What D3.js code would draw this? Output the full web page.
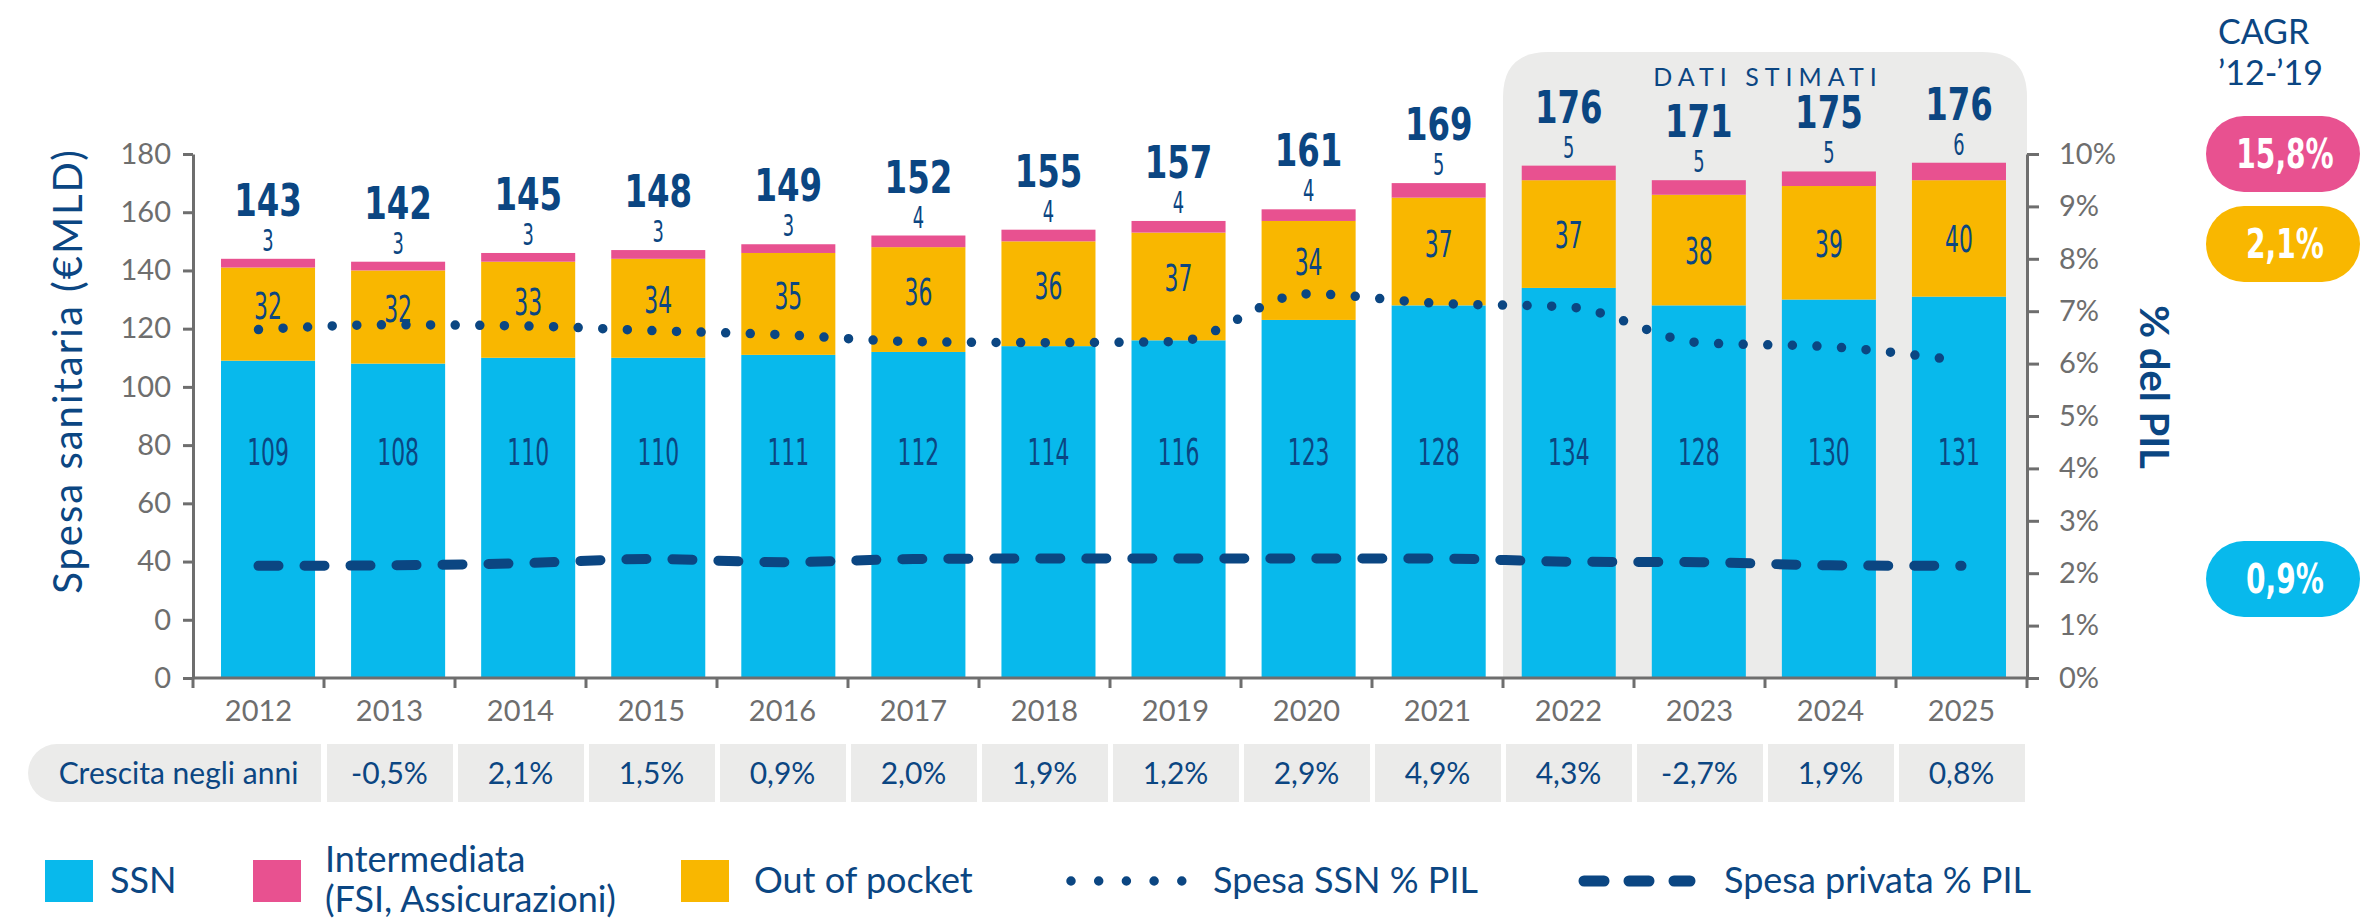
<!DOCTYPE html>
<html>
<head>
<meta charset="utf-8">
<script src="https://cdn.jsdelivr.net/npm/d3@7.9.0/dist/d3.min.js"></script>
<style>
  body { margin: 0; background: #fff; }
  svg text { font-family: Lato, 'Open Sans', sans-serif; }
  svg text.num { font-family: 'DejaVu Sans Condensed', 'DejaVu Sans', sans-serif; }
</style>
</head>
<body>
<svg id="chart" width="2362" height="920"></svg>
<script>
// data
const years = [2012, 2013, 2014, 2015, 2016, 2017, 2018, 2019, 2020, 2021, 2022, 2023, 2024, 2025];
const ssn          = [109, 108, 110, 110, 111, 112, 114, 116, 123, 128, 134, 128, 130, 131];
const outOfPocket  = [32, 32, 33, 34, 35, 36, 36, 37, 34, 37, 37, 38, 39, 40];
const intermediata = [3, 3, 3, 3, 3, 4, 4, 4, 4, 5, 5, 5, 5, 6];
const totals       = [143, 142, 145, 148, 149, 152, 155, 157, 161, 169, 176, 171, 175, 176];
const ssnPil       = [6.65, 6.74, 6.72, 6.63, 6.55, 6.42, 6.40, 6.42, 7.33, 7.15, 7.08, 6.40, 6.32, 6.05];
const privataPil   = [2.14, 2.15, 2.19, 2.27, 2.21, 2.27, 2.28, 2.28, 2.28, 2.28, 2.22, 2.21, 2.15, 2.14];
const growthLabel  = 'Crescita negli anni';
const growth       = ['-0,5%', '2,1%', '1,5%', '0,9%', '2,0%', '1,9%', '1,2%', '2,9%', '4,9%', '4,3%', '-2,7%', '1,9%', '0,8%'];
const yTicks       = [0, 20, 40, 60, 80, 100, 120, 140, 160, 180];
const yTickLabels  = ['0', '0', '40', '60', '80', '100', '120', '140', '160', '180'];
const estimatedYears = [2022, 2023, 2024, 2025];
const cagrValues   = ['15,8%', '2,1%', '0,9%'];
const legendItems  = ['SSN', 'Intermediata', 'Out of pocket'];

const NAVY = '#0b4682', GREY = '#6e6e6e', BG = '#ebebea';
const C_SSN = '#08b9ec', C_INT = '#e85190', C_OOP = '#f9b700';

const svg = d3.select('#chart');

// scales
const y  = d3.scaleLinear().domain([0, 180]).range([678, 154]);
const yR = d3.scaleLinear().domain([0, 10]).range([678, 154]);
const x  = d3.scaleBand().domain(years).range([193, 2027]);
const xb = d3.scaleBand().domain(years).range([203, 2024]).paddingInner(0.277).paddingOuter(0.1385);
const xc = d => x(d) + x.bandwidth() / 2;
const bc = d => xb(d) + xb.bandwidth() / 2;
const isEstimate = yr => estimatedYears.includes(yr);

// condensed number text: the source font is a narrow one, so squeeze it
function numText(sel, sx) {
  return sel.attr('class', 'num')
    .attr('transform', d => `translate(${d.cx},${d.cy}) scale(${sx},1)`)
    .attr('text-anchor', 'middle');
}

// shaded "dati stimati" box
const bx0 = x(estimatedYears[0]), bx1 = x.range()[1], by0 = 52, by1 = y(0), r = 45;
svg.append('path')
  .attr('d', `M${bx0},${by1} V${by0 + r} Q${bx0},${by0} ${bx0 + r},${by0} H${bx1 - r} Q${bx1},${by0} ${bx1},${by0 + r} V${by1} Z`)
  .attr('fill', BG);
svg.append('text')
  .attr('x', (bx0 + bx1) / 2 + 3).attr('y', 86)
  .attr('text-anchor', 'middle')
  .attr('font-size', 25).attr('letter-spacing', 6)
  .attr('fill', NAVY)
  .text('DATI STIMATI');

// stacked bars
const rows = years.map((yr, i) => ({ yr, ssn: ssn[i], oop: outOfPocket[i], int: intermediata[i], tot: totals[i] }));
const bars = svg.append('g');
bars.selectAll('.b-ssn').data(rows).join('rect')
  .attr('x', d => xb(d.yr)).attr('width', xb.bandwidth())
  .attr('y', d => y(d.ssn)).attr('height', d => y(0) - y(d.ssn) - 1)
  .attr('fill', C_SSN);
bars.selectAll('.b-oop').data(rows).join('rect')
  .attr('x', d => xb(d.yr)).attr('width', xb.bandwidth())
  .attr('y', d => y(d.ssn + d.oop)).attr('height', d => y(d.ssn) - y(d.ssn + d.oop))
  .attr('fill', C_OOP);
bars.selectAll('.b-int').data(rows).join('rect')
  .attr('x', d => xb(d.yr)).attr('width', xb.bandwidth())
  .attr('y', d => y(d.ssn + d.oop + d.int)).attr('height', d => y(d.ssn + d.oop) - y(d.ssn + d.oop + d.int))
  .attr('fill', C_INT);

// lines on the right axis
const line = d3.line().x((d, i) => xc(years[i])).y(d => yR(d)).curve(d3.curveMonotoneX);
svg.append('path').attr('d', line(privataPil))
  .attr('fill', 'none').attr('stroke', NAVY).attr('stroke-width', 10)
  .attr('stroke-linecap', 'round').attr('stroke-dasharray', '20 26');
svg.append('path').attr('d', line(ssnPil))
  .attr('fill', 'none').attr('stroke', NAVY).attr('stroke-width', 9.5)
  .attr('stroke-linecap', 'round').attr('stroke-dasharray', '0 24.6');

// bar labels
const labels = svg.append('g').attr('fill', NAVY);
labels.selectAll('.l-ssn').data(rows.map(d => ({ v: d.ssn, cx: bc(d.yr), cy: y(78) + 14 })))
  .join('text').call(numText, 0.64)
  .attr('font-size', 38).text(d => d.v);
// historic labels sit a bit higher, clear of the dotted line
labels.selectAll('.l-oop').data(rows.map(d => ({
    v: d.oop, cx: bc(d.yr),
    cy: (y(d.ssn) + y(d.ssn + d.oop)) / 2 + 14 - (isEstimate(d.yr) ? 0 : 9) })))
  .join('text').call(numText, 0.64)
  .attr('font-size', 38).text(d => d.v);
labels.selectAll('.l-int').data(rows.map(d => ({ v: d.int, cx: bc(d.yr), cy: y(d.ssn + d.oop + d.int) - 8 })))
  .join('text').call(numText, 0.64)
  .attr('font-size', 31).text(d => d.v);
labels.selectAll('.l-tot').data(rows.map(d => ({ v: d.tot, cx: bc(d.yr), cy: y(d.ssn + d.oop + d.int) - 43 })))
  .join('text').call(numText, 0.8)
  .attr('font-size', 45).attr('font-weight', 700).text(d => d.v);

// left axis
const gl = svg.append('g').attr('transform', `translate(${x.range()[0]},0)`)
  .call(d3.axisLeft(y).tickValues(yTicks).tickFormat((d, i) => yTickLabels[i])
    .tickSize(10).tickSizeOuter(0).tickPadding(12));
// right axis
const gr = svg.append('g').attr('transform', `translate(${x.range()[1]},0)`)
  .call(d3.axisRight(yR).ticks(10).tickFormat(d => d + '%')
    .tickSize(12).tickSizeOuter(0).tickPadding(20));
[gl, gr].forEach(g => {
  g.select('.domain').attr('stroke', GREY).attr('stroke-width', 3);
  g.selectAll('.tick line').attr('stroke', GREY).attr('stroke-width', 3);
  g.selectAll('.tick text').attr('fill', GREY).attr('font-size', 29)
    .attr('font-family', 'Lato, sans-serif');
});

// bottom axis, ticks at the band edges
const gb = svg.append('g');
gb.append('line').attr('x1', x.range()[0]).attr('x2', x.range()[1])
  .attr('y1', y(0)).attr('y2', y(0)).attr('stroke', GREY).attr('stroke-width', 3);
gb.selectAll('.tk').data(years.map(x).concat([x.range()[1]])).join('line')
  .attr('x1', d => d).attr('x2', d => d).attr('y1', y(0)).attr('y2', y(0) + 10)
  .attr('stroke', GREY).attr('stroke-width', 3);
gb.selectAll('.yl').data(years).join('text')
  .attr('x', xc).attr('y', 721).attr('text-anchor', 'middle')
  .attr('font-size', 29).attr('fill', GREY)
  .text(d => d);

// axis titles
svg.append('text').attr('transform', 'translate(82,371) rotate(-90)')
  .attr('text-anchor', 'middle').attr('font-size', 40).attr('letter-spacing', 2)
  .attr('fill', NAVY).text('Spesa sanitaria (€MLD)');
svg.append('text').attr('transform', 'translate(2140,387) rotate(90)')
  .attr('text-anchor', 'middle').attr('font-size', 40).attr('font-weight', 700)
  .attr('fill', NAVY).text('% del PIL');

// growth row
const rowY = 744, rowH = 58;
const lx0 = 28, lx1 = x(years[1]) - 3, lr = 29;
svg.append('path')
  .attr('d', `M${lx0 + lr},${rowY} H${lx1} V${rowY + rowH} H${lx0 + lr} A${lr},${lr} 0 0 1 ${lx0 + lr},${rowY} Z`)
  .attr('fill', BG);
svg.append('text').attr('x', (lx0 + lx1) / 2 + 4).attr('y', rowY + rowH / 2).attr('dy', '0.36em')
  .attr('text-anchor', 'middle').attr('font-size', 30).attr('fill', NAVY)
  .text(growthLabel);
const gRows = years.slice(1).map((yr, i) => ({ yr, v: growth[i] }));
svg.selectAll('.gc').data(gRows).join('rect')
  .attr('x', d => x(d.yr) + 3).attr('width', x.bandwidth() - 5)
  .attr('y', rowY).attr('height', rowH).attr('fill', BG);
svg.selectAll('.gt').data(gRows).join('text')
  .attr('x', d => xc(d.yr)).attr('y', rowY + rowH / 2).attr('dy', '0.36em')
  .attr('text-anchor', 'middle').attr('font-size', 30).attr('fill', NAVY)
  .text(d => d.v);

// CAGR column
svg.append('text').attr('x', 2218).attr('y', 44).attr('font-size', 34).attr('fill', NAVY).text('CAGR');
svg.append('text').attr('x', 2218).attr('y', 85).attr('font-size', 34).attr('fill', NAVY).text('’12-’19');
const pillTops = [116, 206, 541];
const pillColors = [C_INT, C_OOP, C_SSN];
cagrValues.forEach((v, i) => {
  svg.append('rect').attr('x', 2206).attr('y', pillTops[i]).attr('width', 154).attr('height', 76)
    .attr('rx', 38).attr('fill', pillColors[i]);
});
svg.selectAll('.pill-t').data(cagrValues.map((v, i) => ({ v, cx: 2285, cy: pillTops[i] + 52 })))
  .join('text').call(numText, 0.78)
  .attr('font-size', 40).attr('font-weight', 700).attr('fill', '#fff')
  .text(d => d.v);

// legend
const lg = svg.append('g').attr('fill', NAVY).attr('font-size', 36);
const swX = [45, 253, 681], txX = [110, 325, 754];
[C_SSN, C_INT, C_OOP].forEach((c, i) => {
  lg.append('rect').attr('x', swX[i]).attr('y', 860).attr('width', 48).attr('height', 42).attr('fill', c);
});
lg.append('text').attr('x', txX[0]).attr('y', 893).text(legendItems[0]);
lg.append('text').attr('x', txX[1]).attr('y', 872).text(legendItems[1]);
lg.append('text').attr('x', txX[1]).attr('y', 912).text('(FSI, Assicurazioni)');
lg.append('text').attr('x', txX[2]).attr('y', 893).text(legendItems[2]);
lg.append('line').attr('x1', 1071).attr('x2', 1183).attr('y1', 881).attr('y2', 881)
  .attr('stroke', NAVY).attr('stroke-width', 9.5).attr('stroke-linecap', 'round').attr('stroke-dasharray', '0 27.7');
lg.append('text').attr('x', 1213).attr('y', 893).text('Spesa SSN % PIL');
lg.append('line').attr('x1', 1584).attr('x2', 1690).attr('y1', 881).attr('y2', 881)
  .attr('stroke', NAVY).attr('stroke-width', 11).attr('stroke-linecap', 'round').attr('stroke-dasharray', '20 25');
lg.append('text').attr('x', 1724).attr('y', 893).text('Spesa privata % PIL');
</script>
</body>
</html>
